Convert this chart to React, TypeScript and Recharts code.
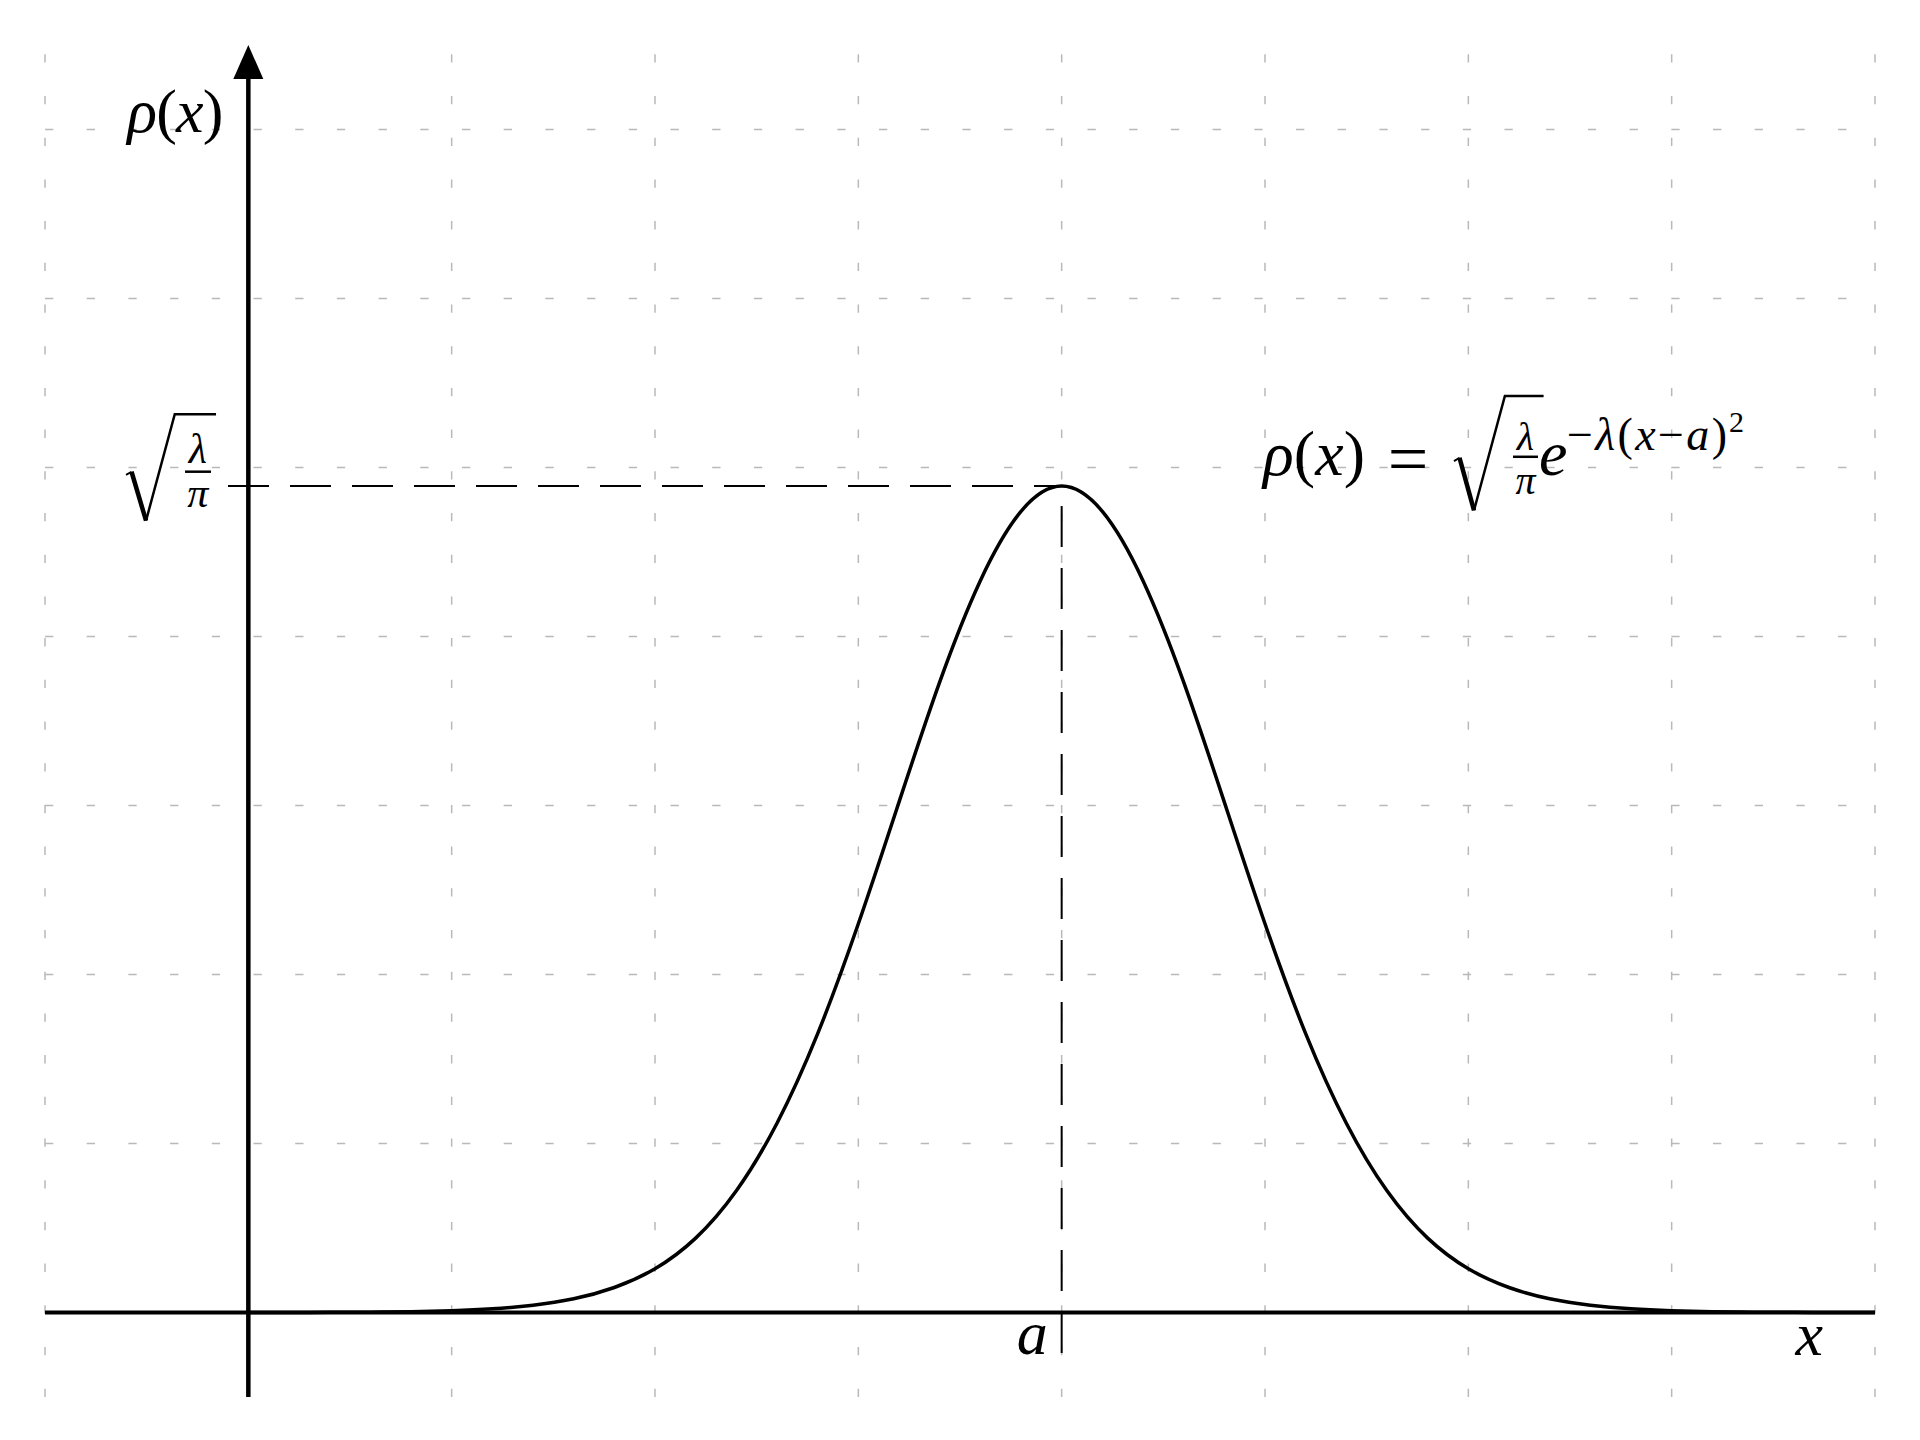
import { ComposedChart, Line, XAxis, YAxis, ReferenceLine, ReferenceDot } from 'recharts';

// density curve (x in grid units, rho in grid units)
const curveX = [
  0, 0.2, 0.4, 0.6, 0.8, 1, 1.2, 1.4, 1.6, 1.8, 2, 2.2, 2.4, 2.6, 2.8, 3, 3.2, 3.4, 3.6, 3.8, 4,
  4.2, 4.4, 4.6, 4.8, 5, 5.2, 5.4, 5.6, 5.8, 6, 6.2, 6.4, 6.6, 6.8, 7, 7.2, 7.4, 7.6, 7.8, 8,
];
const curveY = [
  0, 0.0003, 0.0009, 0.0022, 0.005, 0.011, 0.022, 0.043, 0.081, 0.148, 0.259, 0.44, 0.72, 1.12, 1.65,
  2.3, 3.02, 3.73, 4.33, 4.74, 4.89, 4.74, 4.33, 3.73, 3.02, 2.3, 1.65, 1.12, 0.72, 0.44, 0.259,
  0.148, 0.081, 0.043, 0.022, 0.011, 0.005, 0.0022, 0.0009, 0.0003, 0,
];

const gridX = [-1, 0, 1, 2, 3, 4, 5, 6, 7, 8];
const gridY = [0, 1, 2, 3, 4, 5, 6, 7];
const xDomain: [number, number] = [-1, 8];
const yDomain: [number, number] = [-0.5, 7.5];

const peakX = 4; // a
const peakY = 4.89; // sqrt(lambda/pi)
const guideStartX = -0.1;
const guideBottomY = -0.24;
const axisTopY = 7.3;

const data = curveX.map((x, i) => ({ x, rho: curveY[i] }));

const FONT = "'Liberation Serif', 'DejaVu Serif', serif";
const GRID = '#b9b9b9';

const T = ({ children, size, italic, ...rest }: any) => (
  <text
    {...rest}
    style={{ fontFamily: FONT, fontSize: size, fontStyle: italic ? 'italic' : 'normal' }}
    fill="#000"
  >
    {children}
  </text>
);

const I = ({ children }: any) => <tspan style={{ fontStyle: 'italic' }}>{children}</tspan>;

// radical sign, drawn from the bottom of its V
const Radical = ({ vx, vy, h, barEnd }: { vx: number; vy: number; h: number; barEnd: number }) => (
  <g fill="none" stroke="#000" strokeLinejoin="miter">
    <path d={`M${vx - 20},${vy - 0.43 * h} L${vx - 14.5},${vy - 0.46 * h}`} strokeWidth={2} />
    <path d={`M${vx - 14.5},${vy - 0.46 * h} L${vx},${vy}`} strokeWidth={4.5} />
    <path d={`M${vx},${vy} L${vx + 0.27 * h},${vy - h} L${barEnd},${vy - h}`} strokeWidth={2.5} />
  </g>
);

const Fraction = ({ cx, top, bar, bottom, x1, x2, size }: any) => (
  <g>
    <T x={cx} y={top} textAnchor="middle" size={size} italic>λ</T>
    <line x1={x1} x2={x2} y1={bar} y2={bar} stroke="#000" strokeWidth={2.5} />
    <T x={cx} y={bottom} textAnchor="middle" size={size} italic>π</T>
  </g>
);

const App = () => {
  return (
    <div style={{ position: 'absolute', left: 0, top: 0, width: 1920, height: 1440, background: '#fff' }}>
      <ComposedChart width={1920} height={1440} data={data} margin={{ top: 45, right: 45, bottom: 43, left: 45 }}>
        <XAxis dataKey="x" type="number" domain={xDomain} hide allowDataOverflow />
        <YAxis type="number" domain={yDomain} hide allowDataOverflow />

        {gridY.map((v) => (
          <ReferenceLine
            key={`gy${v}`}
            segment={[{ x: xDomain[0], y: v }, { x: xDomain[1], y: v }]}
            stroke={GRID}
            strokeWidth={1.5}
            strokeDasharray="8.3 33.4"
          />
        ))}
        {gridX.map((v) => (
          <ReferenceLine
            key={`gx${v}`}
            segment={[{ x: v, y: yDomain[0] }, { x: v, y: yDomain[1] }]}
            stroke={GRID}
            strokeWidth={1.5}
            strokeDasharray="8.3 33.4"
          />
        ))}

        {/* guides to the peak */}
        <ReferenceLine
          segment={[{ x: guideStartX, y: peakY }, { x: peakX, y: peakY }]}
          stroke="#000"
          strokeWidth={2}
          strokeDasharray="41 21"
        />
        <ReferenceLine
          segment={[{ x: peakX, y: guideBottomY }, { x: peakX, y: peakY }]}
          stroke="#000"
          strokeWidth={2}
          strokeDasharray="41 21"
        />

        {/* axes */}
        <ReferenceLine segment={[{ x: xDomain[0], y: 0 }, { x: xDomain[1], y: 0 }]} stroke="#000" strokeWidth={4} />
        <ReferenceLine segment={[{ x: 0, y: yDomain[0] }, { x: 0, y: axisTopY }]} stroke="#000" strokeWidth={4.5} />
        <ReferenceDot
          x={0}
          y={yDomain[1]}
          ifOverflow="visible"
          shape={(p: any) => (
            <polygon points={`${p.cx},${p.cy} ${p.cx - 15},${p.cy + 34} ${p.cx + 15},${p.cy + 34}`} fill="#000" />
          )}
        />

        <Line
          dataKey="rho"
          type="natural"
          stroke="#000"
          strokeWidth={3.5}
          dot={false}
          activeDot={false}
          isAnimationActive={false}
        />

        {/* axis labels */}
        <ReferenceDot
          x={0}
          y={7}
          ifOverflow="visible"
          shape={(p: any) => (
            <T x={p.cx - 25} y={p.cy + 2} textAnchor="end" size={62} textLength={96}>
              <I>ρ</I>(<I>x</I>)
            </T>
          )}
        />
        <ReferenceDot
          x={peakX}
          y={0}
          ifOverflow="visible"
          shape={(p: any) => (
            <T x={p.cx - 14} y={p.cy + 41} textAnchor="end" size={62} italic>a</T>
          )}
        />
        <ReferenceDot
          x={xDomain[1]}
          y={0}
          ifOverflow="visible"
          shape={(p: any) => (
            <T x={p.cx - 52} y={p.cy + 42} textAnchor="end" size={62} italic>x</T>
          )}
        />

        {/* sqrt(lambda/pi) on the y axis */}
        <ReferenceDot
          x={0}
          y={peakY}
          ifOverflow="visible"
          shape={(p: any) => (
            <g>
              <Radical vx={p.cx - 102.3} vy={p.cy + 34.6} h={106.4} barEnd={p.cx - 32.3} />
              <Fraction
                cx={p.cx - 50.5}
                top={p.cy - 23}
                bar={p.cy - 14.4}
                bottom={p.cy + 20.6}
                x1={p.cx - 63.3}
                x2={p.cx - 37.3}
                size={42}
              />
            </g>
          )}
        />

        {/* formula */}
        <ReferenceDot
          x={5}
          y={peakY}
          ifOverflow="visible"
          shape={(p: any) => (
            <g>
              <T x={p.cx - 2} y={p.cy - 11.5} size={64} textLength={102}>
                <I>ρ</I>(<I>x</I>)
              </T>
              <T x={p.cx + 143} y={p.cy - 3} size={72} textAnchor="middle">=</T>
              <Radical vx={p.cx + 209} vy={p.cy + 24.3} h={114.4} barEnd={p.cx + 278.6} />
              <Fraction
                cx={p.cx + 260.5}
                top={p.cy - 36.5}
                bar={p.cy - 29.3}
                bottom={p.cy + 8.2}
                x1={p.cx + 248}
                x2={p.cx + 273}
                size={40}
              />
              <T x={p.cx + 274} y={p.cy - 11.5} size={64} italic>e</T>
              <T x={p.cx + 302} y={p.cy - 36.5} size={46} textLength={160}>
                −<I>λ</I>(<I>x</I>−<I>a</I>)
              </T>
              <T x={p.cx + 464} y={p.cy - 54.3} size={30}>2</T>
            </g>
          )}
        />
      </ComposedChart>
    </div>
  );
};

export default App;
